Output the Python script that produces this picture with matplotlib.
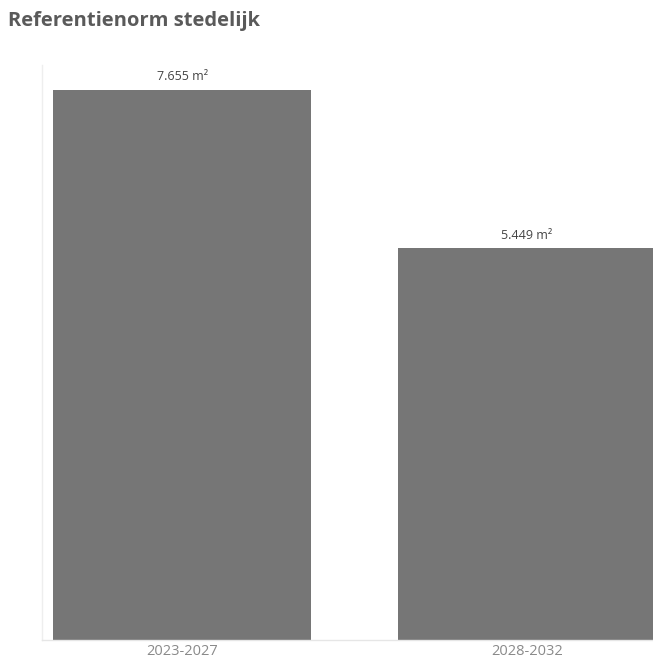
import matplotlib
matplotlib.use("Agg")
import matplotlib.pyplot as plt

categories = ["2023-2027", "2028-2032"]
values = [7655, 5449]
value_labels = ["7.655 m²", "5.449 m²"]
title = "Referentienorm stedelijk"

plt.rcParams['font.family'] = ['Open Sans', 'DejaVu Sans']

W, H = 653, 664
fig = plt.figure(figsize=(W / 100, H / 100), dpi=100)
ax_left, ax_bottom, ax_top = 42, 640, 65
ax = fig.add_axes([ax_left / W, (H - ax_bottom) / H, (W - ax_left) / W, (ax_bottom - ax_top) / H])

x = list(range(len(categories)))
ax.bar(x, values, width=0.75, color="#767676", zorder=2)
ax.set_xlim(-0.406, 1.365)
ax.set_ylim(0, values[0] * (ax_bottom - ax_top) / (ax_bottom - 90))

for xi, v, lab in zip(x, values, value_labels):
    ax.annotate(lab, (xi, v), xytext=(0, 5), textcoords="offset points",
                ha="center", va="bottom", fontsize=9, color="#444444")

ax.set_xticks(x)
ax.set_xticklabels(categories, fontsize=10.5, color="#8a8a8a")
ax.tick_params(axis="x", length=0, pad=3)
ax.set_yticks([])
for s in ["top", "right"]:
    ax.spines[s].set_visible(False)
ax.spines["left"].set_color("#eeeeee")
ax.spines["bottom"].set_color("#e6e6e6")
ax.spines["left"].set_linewidth(1)
ax.spines["bottom"].set_linewidth(1)

fig.text(8 / W, 1 - 21 / H, title, fontsize=14.5, fontweight="bold", color="#5a5a5a",
         ha="left", va="center")

fig.savefig("out.png", dpi=100)
